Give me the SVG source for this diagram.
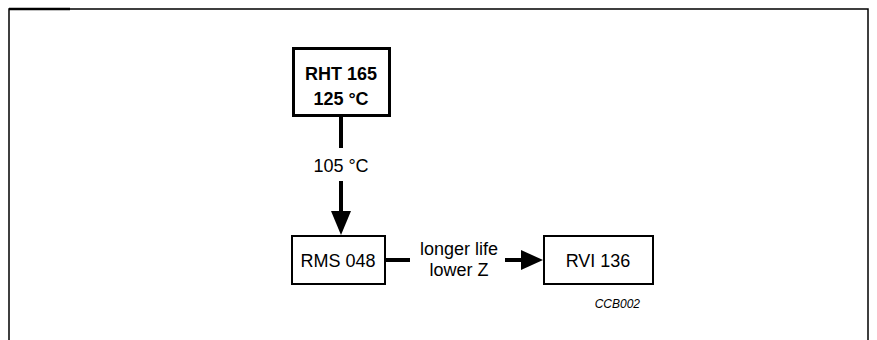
<svg xmlns="http://www.w3.org/2000/svg" width="877" height="340" viewBox="0 0 877 340">
<style>
text{font-family:"Liberation Sans",Arial,sans-serif;fill:#000}
.t{font-size:18px;text-anchor:middle}
.b{font-size:18px;font-weight:bold;text-anchor:middle}
.box{fill:#fff;stroke:#000;stroke-width:2}
.conn{stroke:#000;stroke-width:4;fill:none}
</style>
<rect width="877" height="340" fill="#fff"/>
<path d="M9,340 V9 H868 V340" fill="none" stroke="#000" stroke-width="1.5"/>
<path d="M9,9 H70" stroke="#000" stroke-width="2.5"/>
<g id="connectors">
<path class="conn" d="M341,117 V148"/>
<path class="conn" d="M341,181 V213"/>
<polygon points="331,211 351,211 341,235"/>
<path class="conn" d="M386,260 H410"/>
<path class="conn" d="M505,260 H524"/>
<polygon points="521,250 521,270 543,260"/>
<text class="t" x="341" y="172">105 °C</text>
<text class="t" x="459" y="255">longer life</text>
<text class="t" x="459" y="276">lower Z</text>
</g>
<g id="rht165">
<rect x="293.5" y="48.5" width="96" height="67" fill="#fff" stroke="#000" stroke-width="3"/>
<text class="b" x="341" y="80">RHT 165</text>
<text class="b" x="341" y="105">125 °C</text>
</g>
<g id="rms048">
<rect class="box" x="292" y="236" width="93" height="48"/>
<text class="t" x="338" y="267">RMS 048</text>
</g>
<g id="rvi136">
<rect class="box" x="544" y="236" width="109" height="48"/>
<text class="t" x="598" y="267">RVI 136</text>
</g>
<text x="640" y="308" font-size="12" font-style="italic" text-anchor="end">CCB002</text>
</svg>
